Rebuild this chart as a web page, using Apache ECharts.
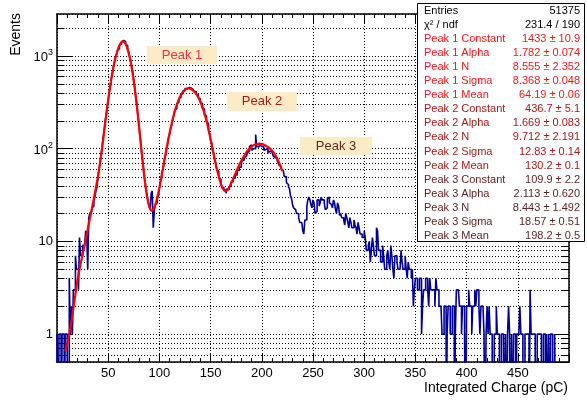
<!DOCTYPE html>
<html><head><meta charset="utf-8">
<script src="https://cdn.jsdelivr.net/npm/echarts@6/dist/echarts.min.js"></script>
<style>html,body{margin:0;padding:0;background:#fff}#c{width:587px;height:401px}</style>
</head><body><div id="c"></div>
<script>
// ---- data ----
const BIN_WIDTH = 1;          // pC per bin (left edges 0,1,2,...)
const counts = [
  1,0,1,1,0,1,1,0,1,1,
  0,0,4,1,2,1,3,3,7,5,
  5,3,11,7,7,9,9,9,13,12,
  5,18,20,21,23,24,28,30,35,38,
  48,60,68,88,103,131,155,199,230,286,
  325,408,462,570,640,762,838,965,1025,1145,
  1195,1305,1345,1420,1465,1475,1430,1340,1290,1175,
  1100,975,890,755,670,540,458,362,305,228,
  184,136,111,81,68,51,44,35,32,26,
  24,22,33,35,14,21,25,26,29,31,
  37,44,48,58,64,77,84,100,110,131,
  143,168,180,210,224,258,270,304,315,350,
  356,388,392,420,420,444,440,462,455,470,
  450,455,434,438,412,412,384,382,352,346,
  314,306,274,266,234,226,195,186,155,147,
  122,116,96,90,75,70,59,57,49,47,
  43,38,38,35,36,33,37,36,39,39,
  44,44,48,48,52,52,58,58,63,63,
  70,74,76,80,83,85,90,94,106,110,
  96,100,104,100,142,106,104,106,110,106,
  104,104,96,98,100,101,90,94,96,92,
  88,84,80,80,78,74,70,66,64,60,
  58,56,50,50,43,41,39,37,31,29,
  25,23,22,22,20,20,18,16,16,16,
  13,12,17,17,24,28,30,28,25,23,
  28,26,20,21,28,28,24,26,30,28,
  28,26,22,23,29,30,26,25,25,23,
  28,26,22,20,26,24,19,20,18,18,
  17,15,20,18,16,14,18,16,14,14,
  17,15,14,12,16,14,12,12,11,11,
  13,11,8,8,9,10,6,8,11,9,
  7,7,14,13,8,8,6,6,9,7,
  5,5,7,8,6,5,9,7,5,4,
  7,7,6,5,5,5,8,6,5,5,
  7,5,4,6,5,5,4,5,2,3,
  4,4,3,3,4,4,1,2,3,3,
  4,4,3,2,4,3,3,3,3,2,
  4,3,3,2,2,2,1,1,2,2,
  0,1,2,2,1,1,2,2,0,1,
  3,3,3,2,2,1,2,2,1,0,
  2,2,3,2,2,1,2,2,3,2,
  3,3,2,1,2,2,2,1,0,1,
  2,1,2,1,1,0,0,1,1,2,
  1,1,0,0,1,1,1,0,1,0,
  1,2,1,0,1,0,1,1,0,1,
  1,1,2,1,1,0,0,1,1,1,
  1,0,3,1,1,1,1,0,0,1,
  1,1,1,0,0,1,1,0,1,0,
  1,0,1,1,0,0,1,0,0,0,
  0,0,0,0,0,0,0,0,0,0
];
const FIT_START = 8, FIT_STEP = 2;
const fitValues = [
  0.65,0.8,1.0,1.35,1.9,2.7,3.8,5.0,6.4,8.2,
  10.5,13.5,17.5,22.5,29,38,50,70,100,150,
  228,338,478,655,845,1035,1220,1365,1435,1400,
  1265,1070,855,630,435,285,178,108,67,43,
  30,24,21.5,22,24.5,30,38,50,66,88,
  115,148,186,230,276,320,360,395,422,440,
  447,442,430,412,388,358,320,280,240,200,
  160,126,98,77,61,50,42,37,35,35.5,
  38,42,47,53,60,67,74,81,88,95,
  100,105,109,111,112,113,112,110,107,104,
  100,95,89,82,74,66,57
];
const X_MIN = 0, X_MAX = 500, X_STEP = 50;
const Y_MIN = 0.5, Y_MAX = 2830;
const yMinor = [0.6,0.7,0.8,0.9,2,3,4,5,6,7,8,9,20,30,40,50,60,70,80,90,200,300,400,500,600,700,800,900,2000];
const statLabels = ['Entries','χ² / ndf',
  'Peak 1 Constant','Peak 1 Alpha','Peak 1 N','Peak 1 Sigma','Peak 1 Mean',
  'Peak 2 Constant','Peak 2 Alpha','Peak 2 N','Peak 2 Sigma','Peak 2 Mean',
  'Peak 3 Constant','Peak 3 Alpha','Peak 3 N','Peak 3 Sigma','Peak 3 Mean'];
const statValues = ['51375','231.4 / 190',
  '1433 ± 10.9','1.782 ± 0.074','8.555 ± 2.352','8.368 ± 0.048','64.19 ± 0.06',
  '436.7 ± 5.1','1.669 ± 0.083','9.712 ± 2.191','12.83 ± 0.14','130.2 ± 0.1',
  '109.9 ± 2.2','2.113 ± 0.620','8.443 ± 1.492','18.57 ± 0.51','198.2 ± 0.5'];
const statGroup = [0,0,1,1,1,1,1,2,2,2,2,2,3,3,3,3,3];
const groupColors = ['#000000','#f01818','#a81818','#5e1c1c'];
const peakLabels = ['Peak 1','Peak 2','Peak 3'];
const peakLabelColors = ['#f0304a','#9c1c1c','#5a2a2a'];
const peakBoxes = [[147,46,70,18],[227,92,70,19],[300,137,72,18]];
const ZERO_FLOOR = 0.05; // empty bins drawn down through the bottom of the frame

const FONT = '"Liberation Sans", Arial, Helvetica, sans-serif';

const histData = counts.map((c, i) => [i * BIN_WIDTH, c > 0 ? c : ZERO_FLOOR]);
histData.push([counts.length * BIN_WIDTH, counts[counts.length - 1] > 0 ? counts[counts.length - 1] : ZERO_FLOOR]);
const fitData = fitValues.map((v, i) => [FIT_START + i * FIT_STEP, v]);

const graphics = [];
graphics.push({type:'rect', z:100, shape:{x:417.5, y:3.5, width:167, height:238}, style:{fill:'#fff', stroke:'#000', lineWidth:1}});
statLabels.forEach((t, i) => {
  const y = 10.5 + i * 14.1;
  const col = groupColors[statGroup[i]];
  graphics.push({type:'text', z:101, x:424, y:y, style:{text:t, fill:col, font:'11px ' + FONT, textAlign:'left', textVerticalAlign:'middle'}});
  graphics.push({type:'text', z:101, x:580, y:y, style:{text:statValues[i], fill:col, font:'11px ' + FONT, textAlign:'right', textVerticalAlign:'middle'}});
});
peakLabels.forEach((t, i) => {
  const b = peakBoxes[i];
  graphics.push({type:'rect', z:90, shape:{x:b[0], y:b[1], width:b[2], height:b[3]}, style:{fill:'#fdebc6'}});
  graphics.push({type:'text', z:91, x:b[0] + b[2] / 2, y:b[1] + b[3] / 2, style:{text:t, fill:peakLabelColors[i], font:'13px ' + FONT, textAlign:'center', textVerticalAlign:'middle'}});
});
graphics.push({type:'text', z:100, x:16, y:13, rotation:Math.PI / 2, style:{text:'Events', fill:'#000', font:'14px ' + FONT, textAlign:'right', textVerticalAlign:'middle'}});
graphics.push({type:'text', z:100, x:568, y:388, style:{text:'Integrated Charge (pC)', fill:'#000', font:'14px ' + FONT, textAlign:'right', textVerticalAlign:'middle'}});

const axisLine = {show:true, onZero:false, lineStyle:{color:'#000', width:1.5}};
const dotted = {color:'#000', width:1, type:[1,2]};

const chart = echarts.init(document.getElementById('c'), null, {renderer:'canvas'});
chart.setOption({
  animation:false,
  backgroundColor:'#fff',
  grid:{left:57, right:18, top:14, bottom:39, containLabel:false},
  xAxis:[
    {type:'value', position:'bottom', min:X_MIN, max:X_MAX, interval:X_STEP,
     axisLine:axisLine,
     axisTick:{show:true, inside:true, length:9, lineStyle:{color:'#000', width:1}},
     minorTick:{show:true, splitNumber:5, length:4, lineStyle:{color:'#000', width:1}},
     axisLabel:{show:true, color:'#000', fontFamily:FONT, fontSize:13, margin:5,
       showMinLabel:false, showMaxLabel:false,
       formatter:v => (v === X_MIN || v === X_MAX) ? '' : String(v)},
     splitLine:{show:true, lineStyle:dotted}},
    {type:'value', position:'top', min:X_MIN, max:X_MAX, interval:X_STEP,
     axisLine:axisLine,
     axisTick:{show:true, inside:true, length:9, lineStyle:{color:'#000', width:1}},
     minorTick:{show:true, splitNumber:5, length:4, lineStyle:{color:'#000', width:1}},
     axisLabel:{show:false}, splitLine:{show:false}}
  ],
  yAxis:[
    {type:'log', logBase:10, position:'left', min:Y_MIN, max:Y_MAX,
     axisLine:axisLine,
     axisTick:{show:true, inside:true, length:15, lineStyle:{color:'#000', width:1}},
     axisLabel:{show:true, color:'#000', fontFamily:FONT, fontSize:13, margin:4,
       showMinLabel:false, showMaxLabel:false,
       formatter:v => {
         const e = Math.round(Math.log10(v));
         if (Math.abs(v - Math.pow(10, e)) > 1e-6 * v) return '';
         if (e === 0) return '{b|1}';
         if (e === 1) return '{b|10}';
         return '{b|10}{s|' + e + '}';
       },
       rich:{b:{fontSize:13, fontFamily:FONT, color:'#000', verticalAlign:'bottom'},
             s:{fontSize:9, fontFamily:FONT, color:'#000', verticalAlign:'bottom', padding:[0,0,7,0]}}},
     splitLine:{show:true, lineStyle:dotted}},
    {type:'log', logBase:10, position:'right', min:Y_MIN, max:Y_MAX,
     axisLine:axisLine,
     axisTick:{show:true, inside:true, length:15, lineStyle:{color:'#000', width:1}},
     axisLabel:{show:false}, splitLine:{show:false}}
  ],
  series:[
    {type:'custom', xAxisIndex:0, yAxisIndex:0, silent:true, z:1,
     data:yMinor.map(v => [X_MIN, v]),
     renderItem:(params, api) => {
       const v = api.value(1);
       const a = api.coord([X_MIN, v]), b = api.coord([X_MAX, v]);
       const y = Math.round(a[1]) + 0.5;
       const st = {stroke:'#000', lineWidth:1};
       return {type:'group', children:[
         {type:'line', shape:{x1:a[0], y1:y, x2:b[0], y2:y}, style:{stroke:'#000', lineWidth:1, lineDash:[1,2]}},
         {type:'line', shape:{x1:a[0], y1:y, x2:a[0] + 7.5, y2:y}, style:st},
         {type:'line', shape:{x1:b[0] - 7.5, y1:y, x2:b[0], y2:y}, style:st}
       ]};
     }},
    {type:'line', name:'hist', xAxisIndex:0, yAxisIndex:0, data:histData, step:'end',
     symbol:'none', clip:true, z:3,
     lineStyle:{color:'#000099', width:1.6}},
    {type:'line', name:'fit', xAxisIndex:0, yAxisIndex:0, data:fitData,
     symbol:'none', smooth:0.3, clip:true, z:4,
     lineStyle:{color:'#ff0000', width:2.2}}
  ],
  graphic:{elements:graphics}
});
</script></body></html>
